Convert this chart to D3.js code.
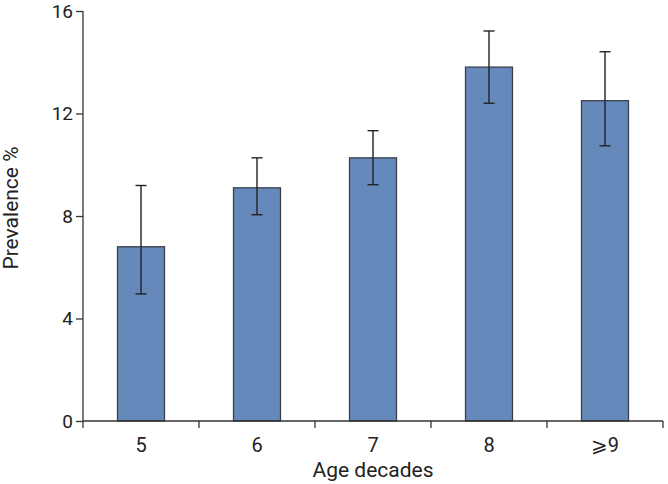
<!DOCTYPE html>
<html><head><meta charset="utf-8">
<script src="https://cdn.jsdelivr.net/npm/d3@7"></script>
<style>body{margin:0;background:#fff}svg text{font-family:Roboto,"DejaVu Sans",sans-serif;fill:#222}</style>
</head><body>
<svg id="c" width="668" height="484"></svg>
<script>
const categories = ["5","6","7","8","\u2a7e9"];
const prevalence = [6.8, 9.1, 10.27, 13.81, 12.5];
const errLow = [4.96, 8.05, 9.22, 12.40, 10.74];
const errHigh = [9.19, 10.27, 11.33, 15.22, 14.41];
const yTicks = [0, 4, 8, 12, 16];

const svg = d3.select("#c");
const m = {l:83, r:5, t:11, b:63};
const W = 668, H = 484;
const x = d3.scaleBand().domain(categories).range([m.l, W - m.r]).paddingInner(0.595).paddingOuter(0.2975);
const xb = d3.scaleBand().domain(categories).range([m.l, W - m.r]).padding(0);
const y = d3.scaleLinear().domain([0,16]).range([H - m.b, m.t]);
const data = categories.map((c,i)=>({c, v:prevalence[i], lo:errLow[i], hi:errHigh[i]}));

svg.selectAll("rect.bar").data(data).join("rect").attr("class","bar")
  .attr("x", d=>x(d.c)).attr("width", x.bandwidth())
  .attr("y", d=>y(d.v)).attr("height", d=>y(0)-y(d.v))
  .attr("fill","#6689bb").attr("stroke","#3a3f48").attr("stroke-width",1.3);

const eb = svg.append("g").attr("stroke","#222").attr("stroke-width",1.4);
data.forEach(d=>{
  const cx = x(d.c) + x.bandwidth()/2;
  eb.append("line").attr("x1",cx).attr("x2",cx).attr("y1",y(d.lo)).attr("y2",y(d.hi));
  eb.append("line").attr("x1",cx-5.5).attr("x2",cx+5.5).attr("y1",y(d.lo)).attr("y2",y(d.lo));
  eb.append("line").attr("x1",cx-5.5).attr("x2",cx+5.5).attr("y1",y(d.hi)).attr("y2",y(d.hi));
});

// y axis
const ya = svg.append("g").attr("transform",`translate(${m.l},0)`)
  .call(d3.axisLeft(y).tickValues(yTicks).tickSize(7).tickPadding(3));
ya.select(".domain").attr("stroke","#333").attr("stroke-width",1.3).attr("d",`M-0,${y(0)}V${y(16)}`);
ya.selectAll(".tick line").attr("stroke","#333").attr("stroke-width",1.3);
ya.selectAll(".tick text").attr("font-size",19).style("fill","#222");

// x axis
const xa = svg.append("g").attr("transform",`translate(0,${y(0)})`);
xa.append("line").attr("x1",m.l).attr("x2",W-m.r).attr("y1",0).attr("y2",0).attr("stroke","#333").attr("stroke-width",1.3);
const bounds = categories.map(c=>xb(c)).concat([xb(categories[categories.length-1])+xb.bandwidth()]);
xa.selectAll("line.tk").data(bounds).join("line").attr("class","tk")
  .attr("x1",d=>d).attr("x2",d=>d).attr("y1",0).attr("y2",7).attr("stroke","#333").attr("stroke-width",1.3);
xa.selectAll("text").data(categories).join("text")
  .attr("x",d=>x(d)+x.bandwidth()/2).attr("y",31).attr("text-anchor","middle")
  .attr("font-size",20).text(d=>d);

svg.append("text").attr("x",(m.l+W-m.r)/2).attr("y",477).attr("text-anchor","middle")
  .attr("font-size",21).text("Age decades");
svg.append("text").attr("transform",`translate(18,208) rotate(-90)`)
  .attr("text-anchor","middle").attr("font-size",21).text("Prevalence %");
</script>
</body></html>
